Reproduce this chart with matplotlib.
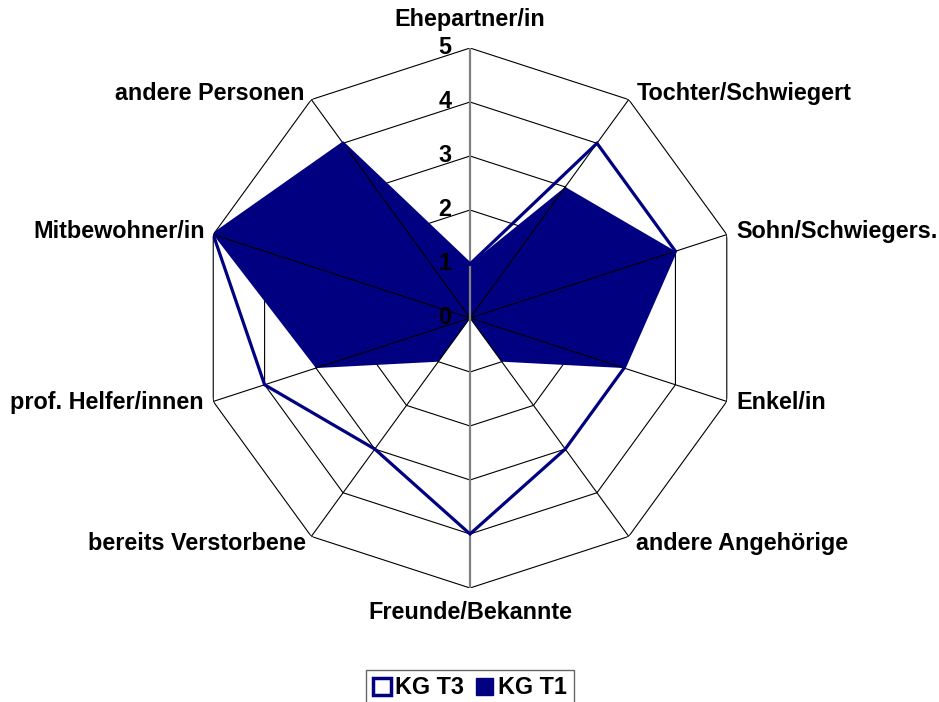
import numpy as np
import matplotlib
matplotlib.use("Agg")
import matplotlib.pyplot as plt
from matplotlib.patches import Patch

categories = ["Ehepartner/in", "Tochter/Schwiegert", "Sohn/Schwiegers.", "Enkel/in",
              "andere Angehörige", "Freunde/Bekannte", "bereits Verstorbene",
              "prof. Helfer/innen", "Mitbewohner/in", "andere Personen"]
kg_t3 = [1, 4, 4, 3, 3, 4, 3, 4, 5, 4]
kg_t1 = [1, 3, 4, 3, 1, 0, 1, 3, 5, 4]
r_ticks = [0, 1, 2, 3, 4, 5]
series_names = ["KG T3", "KG T1"]

NAVY = "#000080"
plt.rcParams['font.family'] = ['Liberation Sans', 'DejaVu Sans']

fig = plt.figure(figsize=(9.39, 7.02), dpi=100)
ax = fig.add_axes([0.2130, 0.1624, 0.5751, 0.7692], projection='polar')
ax.set_theta_zero_location('N')
ax.set_theta_direction(-1)
ax.set_ylim(0, 5)
ax.grid(False)
ax.spines['polar'].set_visible(False)
ax.set_xticks([])
ax.set_yticks([])
ax.patch.set_alpha(0)

n = len(categories)
theta = np.arange(n) * 2 * np.pi / n
tc = np.append(theta, theta[0])

# grid rings (below fill)
for r in r_ticks[1:]:
    ax.plot(tc, [r] * (n + 1), color='black', lw=0.8, zorder=1)

# KG T1 filled
ax.fill(tc, np.append(kg_t1, kg_t1[0]), color=NAVY, lw=0, zorder=2)

# spokes (above fill)
for i, t in enumerate(theta):
    if i in (0, 5):
        continue
    ax.plot([t, t], [0, 5], color='black', lw=0.8, zorder=3)
ax.plot([0, 0], [0, 5], color='#808080', lw=1.6, zorder=3)
ax.plot([np.pi, np.pi], [0, 5], color='#808080', lw=1.6, zorder=3)

# KG T3 outline
ax.plot(tc, np.append(kg_t3, kg_t3[0]), color=NAVY, lw=2.3, zorder=4,
        solid_joinstyle='miter')

px = 0.72
fs = 16.8
offs = [((0, 29), 'center'), ((8, 6), 'left'), ((10, 3), 'left'), ((10, -1), 'left'),
        ((7, -7), 'left'), ((0, -25), 'center'), ((-5, -7), 'right'),
        ((-10, -1), 'right'), ((-8, 3), 'right'), ((-7, 6), 'right')]
for t, lab, ((dx, dy), ha) in zip(theta, categories, offs):
    ax.annotate(lab, xy=(t, 5), xytext=(dx * px, dy * px), textcoords='offset points',
                ha=ha, va='center', fontsize=fs, fontweight='bold', annotation_clip=False)

for r in r_ticks:
    ax.annotate(str(r), xy=(0, r), xytext=(-25 * px, 1 * px), textcoords='offset points',
                ha='center', va='center', fontsize=fs, fontweight='bold',
                annotation_clip=False, zorder=5)

handles = [Patch(facecolor='white', edgecolor=NAVY, lw=2.5),
           Patch(facecolor=NAVY, edgecolor=NAVY)]
leg = fig.legend(handles, series_names, loc='center', bbox_to_anchor=(470 / 939, 1 - 688 / 702),
                 ncol=2, frameon=True, fancybox=False, handlelength=0.75, handleheight=0.75,
                 handletextpad=0.2, columnspacing=0.5, borderpad=0.3,
                 prop={'weight': 'bold', 'size': fs})
leg.get_frame().set_edgecolor('#404040')
leg.get_frame().set_linewidth(1.0)

fig.savefig("out.png", dpi=100)
